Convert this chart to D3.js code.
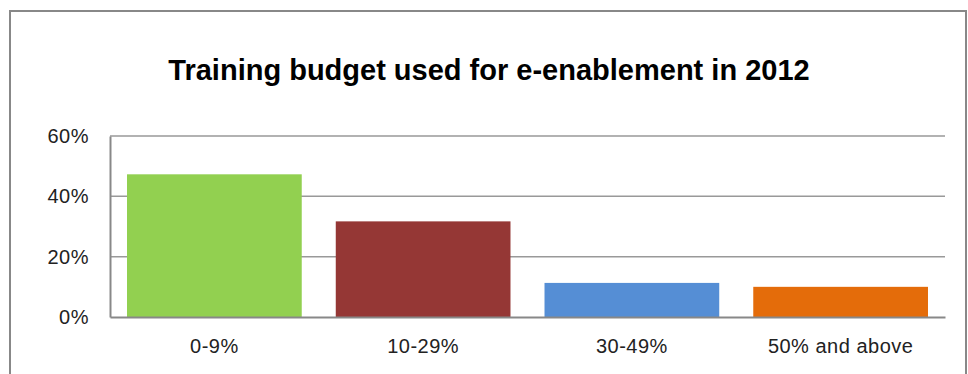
<!DOCTYPE html>
<html>
<head>
<meta charset="utf-8">
<script src="https://cdn.jsdelivr.net/npm/d3@7"></script>
<style>
  body { margin: 0; background: #fff; }
  svg { display: block; }
  .tick text { font-family: 'Liberation Sans', Arial, sans-serif; fill: #222; letter-spacing: 0.5px; }
</style>
</head>
<body>
<svg id="chart"></svg>
<script>
// categories and values (percent of respondents)
const categories = ['0-9%', '10-29%', '30-49%', '50% and above'];
const values = [47.3, 31.7, 11.3, 10.0];
const colors = ['#92d050', '#953735', '#558ed5', '#e46c0a'];
const yTicks = [0, 20, 40, 60];

const width = 968;
const height = 374;
const margin = { top: 136, right: 23, bottom: 57, left: 110 };

const svg = d3.select('#chart')
  .attr('width', width)
  .attr('height', height);

// outer frame
svg.append('rect')
  .attr('x', 10)
  .attr('y', 11)
  .attr('width', 956)
  .attr('height', 400)
  .attr('fill', 'none')
  .attr('stroke', '#888')
  .attr('stroke-width', 2);

// title
svg.append('text')
  .attr('x', 489)
  .attr('y', 80)
  .attr('text-anchor', 'middle')
  .style('font-family', "'Liberation Sans', Arial, sans-serif")
  .style('font-weight', 'bold')
  .style('font-size', '29px')
  .text('Training budget used for e-enablement in 2012');

const xScale = d3.scaleBand()
  .domain(categories)
  .range([margin.left, width - margin.right])
  .paddingInner(0.163)
  .paddingOuter(0.0815);

const yScale = d3.scaleLinear()
  .domain([0, 60])
  .range([height - margin.bottom, margin.top]);

// gridlines
svg.append('g')
  .selectAll('line')
  .data(yTicks.slice(1))
  .join('line')
  .attr('x1', margin.left)
  .attr('x2', width - margin.right)
  .attr('y1', d => yScale(d))
  .attr('y2', d => yScale(d))
  .attr('stroke', '#999')
  .attr('stroke-width', 1.5);

// bars
svg.append('g')
  .selectAll('rect')
  .data(values)
  .join('rect')
  .attr('x', (d, i) => xScale(categories[i]))
  .attr('width', xScale.bandwidth())
  .attr('y', d => yScale(d))
  .attr('height', d => yScale(0) - yScale(d))
  .attr('fill', (d, i) => colors[i]);

// y axis
const yAxis = d3.axisLeft(yScale)
  .tickValues(yTicks)
  .tickFormat(d => d + '%')
  .tickSize(0)
  .tickPadding(21);

svg.append('g')
  .attr('transform', `translate(${margin.left},0)`)
  .call(yAxis)
  .call(g => g.select('.domain').attr('stroke', '#888').attr('stroke-width', 2))
  .call(g => g.selectAll('.tick text').style('font-size', '20px'));

// x axis
const xAxis = d3.axisBottom(xScale)
  .tickSize(0)
  .tickPadding(22);

svg.append('g')
  .attr('transform', `translate(0,${height - margin.bottom})`)
  .call(xAxis)
  .call(g => g.select('.domain').attr('stroke', '#888').attr('stroke-width', 2))
  .call(g => g.selectAll('.tick text').style('font-size', '20px'));
</script>
</body>
</html>
